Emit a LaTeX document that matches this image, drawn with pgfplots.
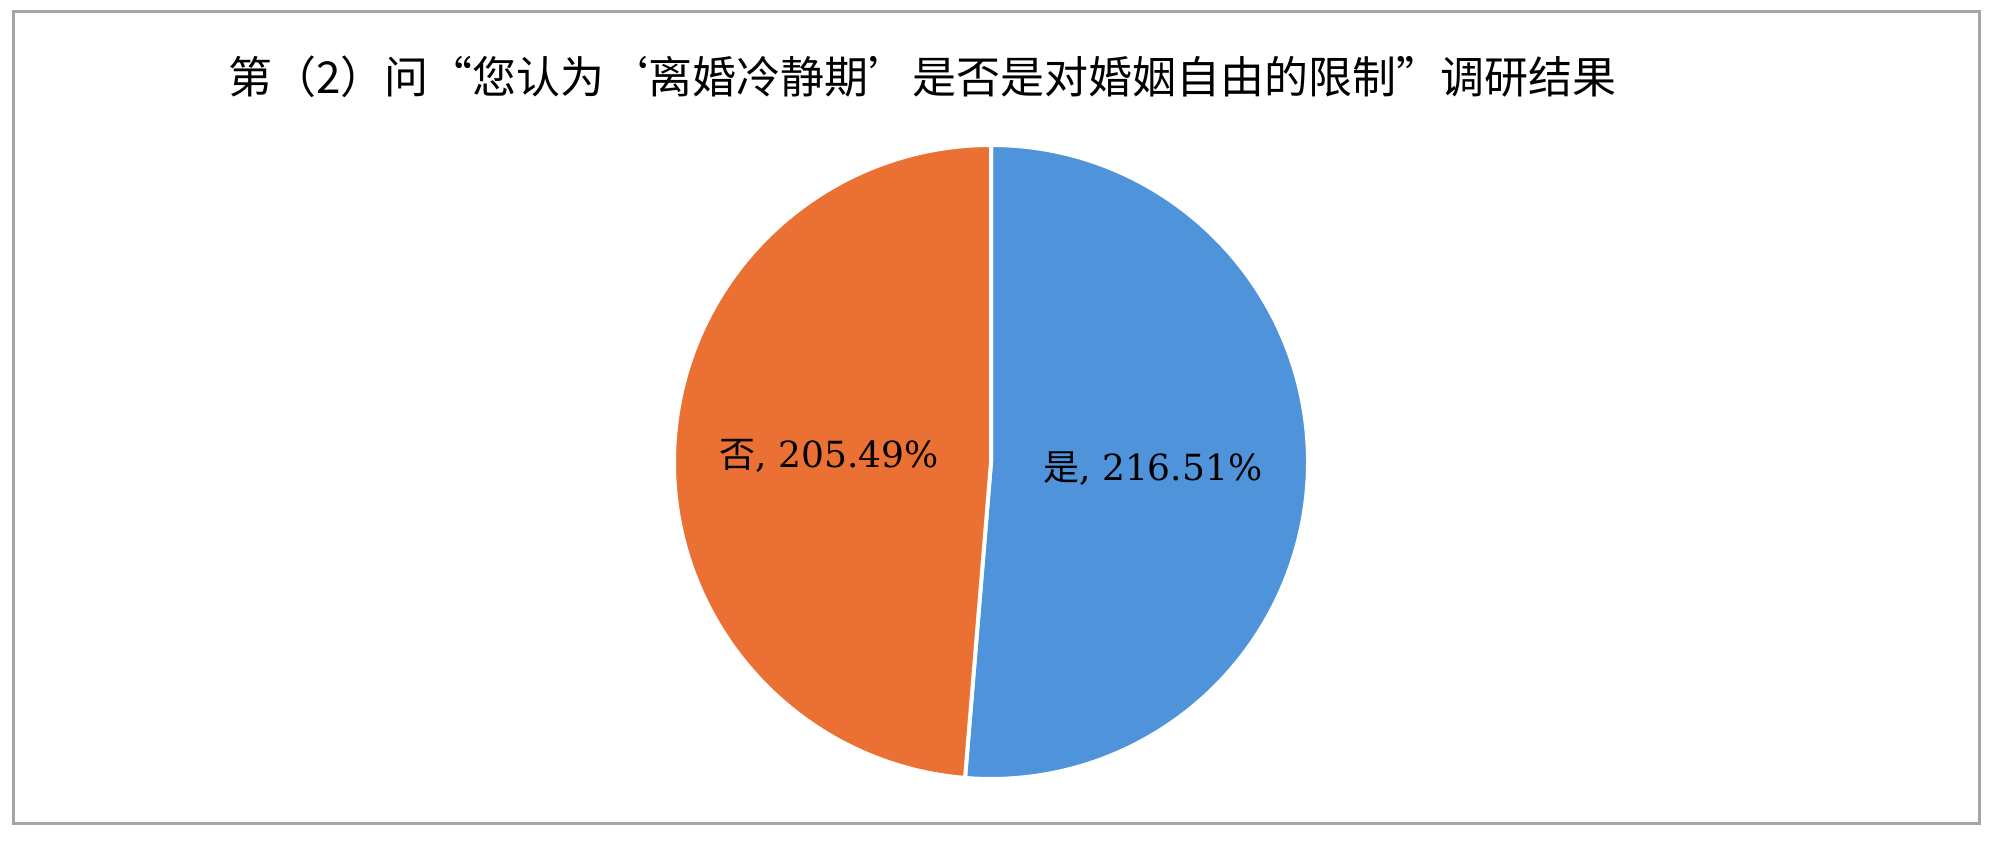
\documentclass[border=0pt]{standalone}
\usepackage{pgfplots}
\pgfplotsset{compat=1.18}
\usepackage{pgfplotstable}
\usetikzlibrary{calc}
\usepackage{fontspec}
\setmainfont{DejaVu Serif}
\newfontfamily\cjk{Noto Sans CJK SC}

\definecolor{sliceblue}{RGB}{79,148,218}
\definecolor{sliceorange}{RGB}{234,113,51}
\definecolor{framegray}{RGB}{165,165,165}

% pie data (values as labelled in the source chart)
\pgfplotstableread{
label value
是 216.51
否 205.49
}\piedata

\begin{document}
\begin{tikzpicture}
\pgfplotstablegetelem{0}{value}\of\piedata \let\va\pgfplotsretval
\pgfplotstablegetelem{1}{value}\of\piedata \let\vb\pgfplotsretval
\pgfmathsetmacro\tot{\va+\vb}
\pgfmathsetmacro\fa{\va/\tot}
\pgfmathsetmacro\fb{\vb/\tot}
\pgfmathsetmacro\aend{90-360*\fa}
\pgfmathsetmacro\amida{90-180*\fa}
\pgfmathsetmacro\amidb{\aend-180*\fb}
\begin{axis}[
    width=999.5pt, height=421pt, scale only axis,
    xmin=0, xmax=1999, ymin=0, ymax=842,
    hide axis, clip=false,
]
\path (axis cs:0,0) rectangle (axis cs:1999,842);
\draw[framegray, line width=1.5pt] (axis cs:13,19) rectangle (axis cs:1979,830);
\node[anchor=west, inner sep=0pt, font=\fontsize{22pt}{25pt}\cjk]
    at (axis cs:228,765) {第（2）问“您认为‘离婚冷静期’是否是对婚姻自由的限制”调研结果};
% slices
\filldraw[fill=sliceblue, draw=white, line width=2pt]
    (axis cs:991,380) -- ++(90:158.5pt) arc[start angle=90, end angle=\aend, radius=158.5pt] -- cycle;
\filldraw[fill=sliceorange, draw=white, line width=2pt]
    (axis cs:991,380) -- ++(\aend:158.5pt) arc[start angle=\aend, end angle=-270, radius=158.5pt] -- cycle;
% data labels
\node[font=\fontsize{18pt}{20pt}\selectfont] at ($(axis cs:991,380)+(\amida:81pt)$)
    {{\cjk 是}, \va\%};
\node[font=\fontsize{18pt}{20pt}\selectfont] at ($(axis cs:991,380)+(\amidb:81pt)$)
    {{\cjk 否}, \vb\%};
\end{axis}
\end{tikzpicture}
\end{document}
